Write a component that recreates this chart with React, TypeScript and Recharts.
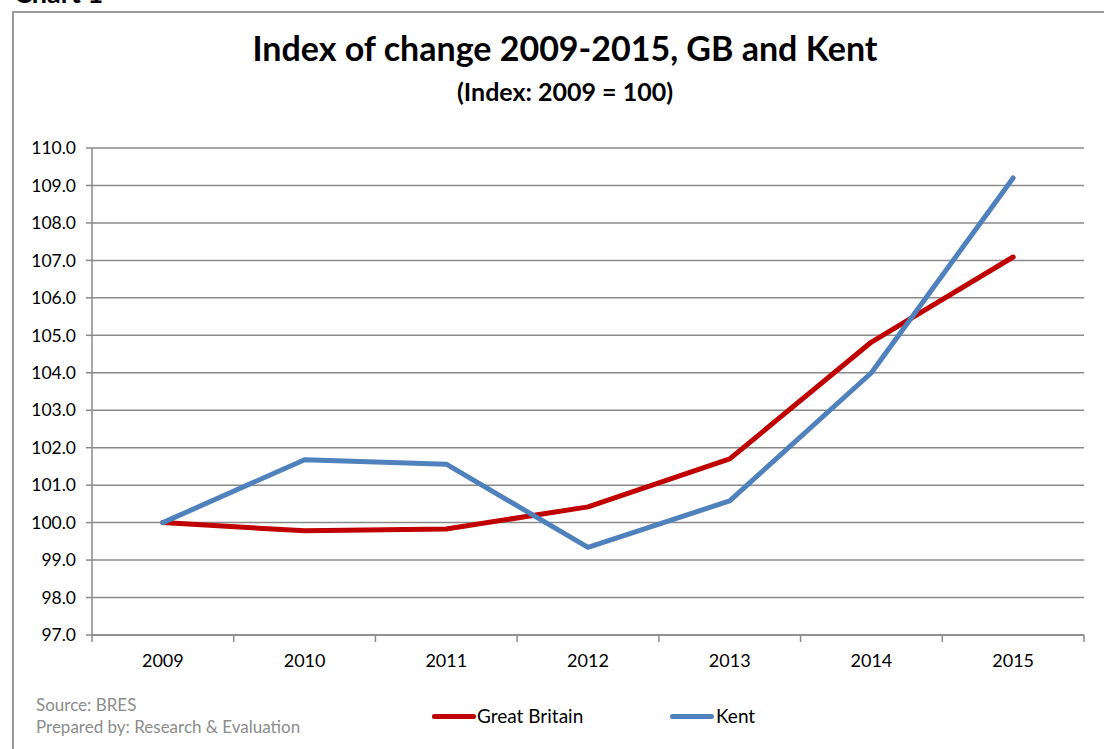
import React from 'react';
import { LineChart, Line, XAxis, YAxis, CartesianGrid } from 'recharts';

const years = ['2009', '2010', '2011', '2012', '2013', '2014', '2015'];
const gbValues = [100.0, 99.78, 99.83, 100.42, 101.7, 104.82, 107.09];
const kentValues = [100.0, 101.68, 101.56, 99.34, 100.58, 104.0, 109.2];
const yTicks = [97, 98, 99, 100, 101, 102, 103, 104, 105, 106, 107, 108, 109, 110];

const data = years.map((year, i) => ({ year, gb: gbValues[i], kent: kentValues[i] }));

const FONT = 'Lato, "Open Sans", sans-serif';
const GRID = '#8a8a8a';

// category ticks: label at centre, tick marks between categories like Excel
const XTick = (props: any) => {
    const { x, y, payload, index } = props;
    const band = (1084 - 92) / years.length;
    const left = x - band / 2;
    return (
        <g>
            <line x1={left} x2={left} y1={y - 8} y2={y - 1} stroke={GRID} strokeWidth={1.5} />
            {index === years.length - 1 && (
                <line x1={left + band} x2={left + band} y1={y - 8} y2={y - 1} stroke={GRID} strokeWidth={1.5} />
            )}
            <text x={x} y={y + 24} textAnchor="middle" fontSize={18} fill="#000" fontFamily={FONT}>
                {payload.value}
            </text>
        </g>
    );
};

export default function App() {
    return (
        <div style={{ position: 'absolute', left: 0, top: 0, width: 1104, height: 749, overflow: 'hidden', background: '#fff', fontFamily: FONT }}>
            <div style={{ position: 'absolute', left: 14, top: -24, fontSize: 27, fontWeight: 700 }}>Chart 1</div>
            <div style={{ position: 'absolute', left: 12, top: 11, width: 1200, height: 800, border: '2px solid #9a9a9a' }} />
            <div style={{ position: 'absolute', left: 0, top: 27, width: 1130, textAlign: 'center', fontSize: 34, fontWeight: 700 }}>
                Index of change 2009-2015, GB and Kent
            </div>
            <div style={{ position: 'absolute', left: 0, top: 76, width: 1130, textAlign: 'center', fontSize: 25, fontWeight: 700 }}>
                (Index: 2009 = 100)
            </div>
            <div style={{ position: 'absolute', left: 36, top: 694, fontSize: 17, color: '#8c8c8c', lineHeight: '22px' }}>
                <div>Source: BRES</div>
                <div>Prepared by: Research &amp; Evaluation</div>
            </div>
            <div style={{ position: 'absolute', left: 0, top: 703, width: 1104, height: 26, fontSize: 19, color: '#000' }}>
                <div style={{ position: 'absolute', left: 432, top: 11, width: 44, height: 5, borderRadius: 3, background: '#C00000' }} />
                <span style={{ position: 'absolute', left: 477, top: 1 }}>Great Britain</span>
                <div style={{ position: 'absolute', left: 670, top: 11, width: 44, height: 5, borderRadius: 3, background: '#4F81BD' }} />
                <span style={{ position: 'absolute', left: 716, top: 1 }}>Kent</span>
            </div>
            <div style={{ position: 'absolute', left: 0, top: 0 }}>
                <LineChart width={1104} height={749} data={data} margin={{ top: 148, right: 20, bottom: 84, left: 12 }}>
                    <CartesianGrid vertical={false} stroke={GRID} strokeWidth={1.5} />
                    <XAxis
                        dataKey="year"
                        scale="band"
                        height={30}
                        tickLine={false}
                        axisLine={{ stroke: GRID, strokeWidth: 1.5 }}
                        tick={<XTick />}
                        interval={0}
                    />
                    <YAxis
                        width={80}
                        domain={[97, 110]}
                        ticks={yTicks}
                        interval={0}
                        tickFormatter={(v: number) => v.toFixed(1)}
                        axisLine={{ stroke: GRID, strokeWidth: 1.5 }}
                        tickLine={{ stroke: GRID, strokeWidth: 1.5 }}
                        tickSize={6}
                        tickMargin={10}
                        tick={{ fontSize: 17.5, fill: '#000', fontFamily: FONT }}
                    />
                    <Line type="linear" dataKey="gb" name="Great Britain" stroke="#C00000" strokeWidth={5} strokeLinecap="round" strokeLinejoin="round" dot={false} isAnimationActive={false} />
                    <Line type="linear" dataKey="kent" name="Kent" stroke="#4F81BD" strokeWidth={5} strokeLinecap="round" strokeLinejoin="round" dot={false} isAnimationActive={false} />
                </LineChart>
            </div>
        </div>
    );
}
